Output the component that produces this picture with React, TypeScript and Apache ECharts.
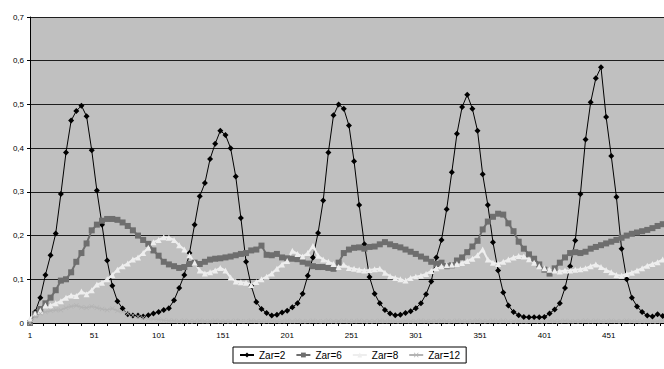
import React, { useEffect, useRef } from "react";
import * as echarts from "echarts";

// Simulation step of every sampled point (every 4th step, starting at step 1)
const POINT_COUNT = 124;
const SAMPLE_EVERY = 4;

const seriesNames = ["Zar=2", "Zar=6", "Zar=8", "Zar=12"];
const xTickLabels = ["1", "51", "101", "151", "201", "251", "301", "351", "401", "451"];
const yTickLabels = ["0", "0,1", "0,2", "0,3", "0,4", "0,5", "0,6", "0,7"];

const zar2 = [
  0, 0.025, 0.058, 0.11, 0.155, 0.205, 0.295, 0.39, 0.463, 0.485,
  0.497, 0.473, 0.395, 0.303, 0.225, 0.143, 0.085, 0.05, 0.033, 0.02,
  0.017, 0.017, 0.015, 0.018, 0.022, 0.025, 0.03, 0.034, 0.052, 0.08,
  0.11, 0.16, 0.225, 0.29, 0.32, 0.375, 0.41, 0.44, 0.43, 0.4,
  0.335, 0.24, 0.14, 0.085, 0.048, 0.032, 0.023, 0.017, 0.019, 0.024,
  0.028, 0.036, 0.045, 0.067, 0.108, 0.15, 0.206, 0.28, 0.39, 0.475,
  0.5, 0.49, 0.452, 0.37, 0.27, 0.18, 0.105, 0.067, 0.045, 0.03,
  0.022, 0.018, 0.019, 0.023, 0.027, 0.034, 0.045, 0.066, 0.095, 0.15,
  0.19, 0.26, 0.345, 0.433, 0.494, 0.522, 0.49, 0.44, 0.34, 0.27,
  0.185, 0.12, 0.07, 0.04, 0.025, 0.018, 0.014, 0.013, 0.013, 0.013,
  0.014, 0.022, 0.031, 0.045, 0.08, 0.13, 0.189, 0.295, 0.42, 0.505,
  0.56, 0.585, 0.471, 0.382, 0.288, 0.17, 0.1, 0.058, 0.038, 0.025,
  0.017, 0.015, 0.02, 0.016,
];

const zar6 = [
  0, 0.02, 0.032, 0.045, 0.058, 0.075, 0.097, 0.1, 0.116, 0.14,
  0.16, 0.182, 0.212, 0.225, 0.234, 0.238, 0.238, 0.236, 0.23, 0.222,
  0.212, 0.2, 0.19, 0.181, 0.166, 0.154, 0.14, 0.134, 0.13, 0.126,
  0.128, 0.135, 0.138, 0.135, 0.14, 0.145, 0.147, 0.148, 0.15, 0.152,
  0.155, 0.158, 0.16, 0.166, 0.168, 0.177, 0.156, 0.155, 0.158, 0.15,
  0.148, 0.147, 0.146, 0.14, 0.136, 0.13, 0.128, 0.128, 0.126, 0.124,
  0.138, 0.16, 0.168, 0.172, 0.173, 0.17, 0.174, 0.175, 0.18, 0.185,
  0.18, 0.176, 0.173, 0.168, 0.163, 0.158, 0.152, 0.147, 0.14, 0.135,
  0.138, 0.13, 0.132, 0.143, 0.15, 0.162, 0.175, 0.188, 0.214, 0.232,
  0.243, 0.25, 0.248, 0.228, 0.21, 0.186, 0.17, 0.157, 0.147, 0.134,
  0.122, 0.113, 0.125, 0.138, 0.15, 0.16, 0.162, 0.16, 0.163, 0.17,
  0.174, 0.178, 0.182, 0.186, 0.19, 0.195, 0.2, 0.204, 0.207, 0.21,
  0.213, 0.217, 0.222, 0.226,
];

const zar8 = [
  0.01, 0.022, 0.028, 0.04, 0.04, 0.045, 0.05, 0.058, 0.063, 0.062,
  0.072, 0.066, 0.075, 0.088, 0.092, 0.1, 0.11, 0.122, 0.13, 0.136,
  0.145, 0.15, 0.16, 0.172, 0.185, 0.19, 0.196, 0.195, 0.19, 0.178,
  0.168, 0.155, 0.138, 0.12, 0.113, 0.116, 0.12, 0.126, 0.12, 0.104,
  0.095, 0.093, 0.092, 0.087, 0.094, 0.1, 0.106, 0.113, 0.124, 0.134,
  0.142, 0.165, 0.158, 0.152, 0.16, 0.176, 0.154, 0.145, 0.14, 0.135,
  0.128, 0.133, 0.126, 0.124, 0.122, 0.12, 0.121, 0.123, 0.124, 0.115,
  0.107, 0.103, 0.1, 0.097, 0.103, 0.106, 0.108, 0.112, 0.119, 0.125,
  0.13, 0.132, 0.133, 0.135, 0.137, 0.142, 0.147, 0.155, 0.168, 0.145,
  0.138, 0.135, 0.14, 0.145, 0.15, 0.153, 0.152, 0.146, 0.138, 0.13,
  0.125, 0.122, 0.12, 0.118, 0.12, 0.12, 0.122, 0.123, 0.125, 0.13,
  0.134, 0.128, 0.121, 0.116, 0.11, 0.108, 0.112, 0.115, 0.12, 0.125,
  0.131, 0.135, 0.139, 0.145,
];

const zar12 = [
  0, 0.015, 0.022, 0.025, 0.028, 0.03, 0.03, 0.035, 0.038, 0.04,
  0.036, 0.035, 0.038, 0.035, 0.032, 0.03, 0.033, 0.028, 0.025, 0.022,
  0.018, 0.015, 0.012, 0.01, 0.009, 0.008, 0.006, 0.005, 0.005, 0.004,
  0.005, 0.004, 0.004, 0.005, 0.004, 0.004, 0.005, 0.004, 0.004, 0.004,
  0.005, 0.004, 0.004, 0.005, 0.004, 0.004, 0.004, 0.005, 0.004, 0.004,
  0.005, 0.004, 0.005, 0.004, 0.004, 0.005, 0.004, 0.004, 0.005, 0.004,
  0.004, 0.005, 0.004, 0.004, 0.005, 0.004, 0.004, 0.004, 0.005, 0.004,
  0.005, 0.004, 0.004, 0.005, 0.004, 0.004, 0.005, 0.004, 0.004, 0.004,
  0.005, 0.004, 0.004, 0.005, 0.004, 0.004, 0.004, 0.005, 0.004, 0.004,
  0.005, 0.004, 0.005, 0.004, 0.004, 0.005, 0.004, 0.004, 0.005, 0.004,
  0.004, 0.005, 0.004, 0.004, 0.005, 0.004, 0.004, 0.004, 0.005, 0.004,
  0.005, 0.004, 0.004, 0.005, 0.004, 0.004, 0.005, 0.004, 0.004, 0.004,
  0.005, 0.004, 0.004, 0.005,
];

const xPositions: number[] = Array.from({ length: POINT_COUNT }, (_, i) => i * SAMPLE_EVERY);

const FONT = "'Liberation Sans', Arial, sans-serif";
const X_SYMBOL =
  "path://M0,1L1,0L5,4L9,0L10,1L6,5L10,9L9,10L5,6L1,10L0,9L4,5Z";

function pairs(values: number[]) {
  return values.map((v, i) => [xPositions[i], v]);
}

export default function App() {
  const ref = useRef<HTMLDivElement | null>(null);

  useEffect(() => {
    if (!ref.current) return;
    const chart = echarts.init(ref.current, null, { renderer: "svg" });
    const styles = [
      { color: "#000000", symbol: "diamond", size: 6, width: 1 },
      { color: "#6e6e6e", symbol: "rect", size: 6, width: 2 },
      { color: "#eeeeee", symbol: "triangle", size: 6, width: 2 },
      { color: "#b4b4b4", symbol: X_SYMBOL, size: 5, width: 1.5 },
    ];
    const values = [zar2, zar6, zar8, zar12];
    chart.setOption({
      animation: false,
      textStyle: { fontFamily: FONT },
      grid: {
        left: 30,
        right: 0,
        top: 17,
        bottom: 46,
        show: true,
        backgroundColor: "#c0c0c0",
        borderWidth: 0,
        containLabel: false,
      },
      legend: {
        data: seriesNames,
        left: 233,
        top: 347,
        itemWidth: 14,
        itemHeight: 6,
        itemGap: 10,
        padding: [3, 6],
        borderColor: "#000",
        borderWidth: 1,
        backgroundColor: "#ffffff",
        borderRadius: 0,
        textStyle: { fontSize: 10, color: "#000", fontFamily: FONT },
      },
      xAxis: {
        type: "value",
        min: 0,
        max: 493,
        interval: 10,
        axisLine: { show: true, onZero: false, lineStyle: { color: "#000", width: 1 } },
        axisTick: { show: true, length: 3, lineStyle: { color: "#000" } },
        axisLabel: {
          fontSize: 8,
          color: "#000",
          margin: 8,
          fontFamily: FONT,
          showMaxLabel: false,
          formatter: (v: number) => (v % 50 === 0 ? xTickLabels[v / 50] ?? "" : ""),
        },
        splitLine: { show: false },
      },
      yAxis: {
        type: "value",
        min: 0,
        max: 0.7,
        interval: 0.1,
        axisLine: { show: true, lineStyle: { color: "#000", width: 1 } },
        axisTick: { show: true, length: 3, lineStyle: { color: "#000" } },
        axisLabel: {
          fontSize: 8,
          color: "#000",
          margin: 6,
          fontFamily: FONT,
          formatter: (v: number) => yTickLabels[Math.round(v * 10)] ?? "",
        },
        splitLine: { show: true, lineStyle: { color: "#1e1e1e", width: 1 } },
      },
      series: values.map((vals, k) => ({
        name: seriesNames[k],
        type: "line",
        data: pairs(vals),
        symbol: styles[k].symbol,
        symbolSize: styles[k].size,
        showAllSymbol: true,
        lineStyle: { color: styles[k].color, width: styles[k].width },
        itemStyle: { color: styles[k].color, borderWidth: 0 },
        emphasis: { disabled: true },
      })),
    });
    return () => chart.dispose();
  }, []);

  return (
    <div
      ref={ref}
      style={{ position: "fixed", left: 0, top: 0, width: 664, height: 369, background: "#fff" }}
    />
  );
}
